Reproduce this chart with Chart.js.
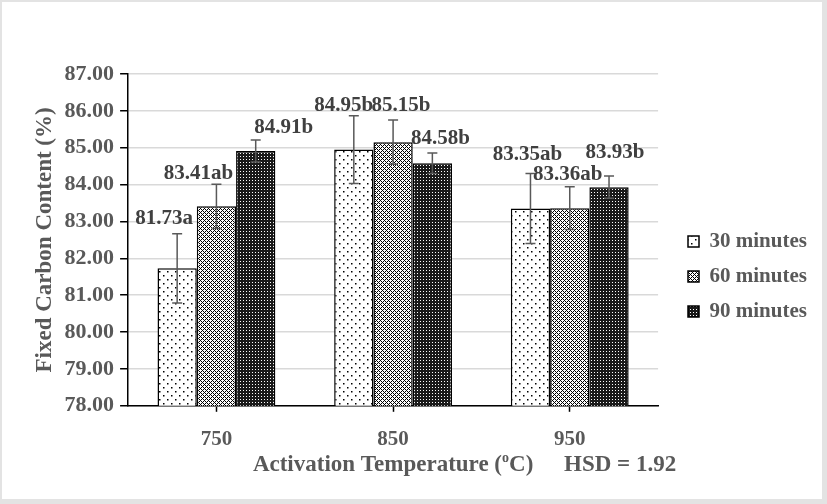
<!DOCTYPE html>
<html>
<head>
<meta charset="utf-8">
<script src="https://cdn.jsdelivr.net/npm/chart.js@4.4.1/dist/chart.umd.min.js"></script>
<style>
  html, body { margin: 0; padding: 0; background: #e3e3e3; }
  #wrap { position: absolute; left: 2px; top: 2px; width: 820px; height: 497px; background: #fff; }
  canvas { display: block; }
</style>
</head>
<body>
<div id="wrap"><canvas id="chart" width="820" height="497"></canvas></div>
<script>
// data
const temperatures = ["750", "850", "950"];
const seriesNames = ["30 minutes", "60 minutes", "90 minutes"];
const carbon30 = [81.73, 84.95, 83.35];
const carbon60 = [83.41, 85.15, 83.36];
const carbon90 = [84.91, 84.58, 83.93];
const err30 = [0.94, 0.92, 0.95];
const err60 = [0.6, 0.6, 0.58];
const err90 = [0.3, 0.28, 0.3];
const letters30 = ["a", "b", "ab"];
const letters60 = ["ab", "b", "ab"];
const letters90 = ["b", "b", "b"];
const yTicks = [78, 79, 80, 81, 82, 83, 84, 85, 86, 87];
const hsdText = "HSD = 1.92";

// where each value label sits relative to its bar top (px), one row per series
const labelShift = [
  [[-13, -50], [-10, -44], [-3, -54]],
  [[-18, -33], [8, -37], [-2, -34]],
  [[28, -23], [8, -25], [6, -35]]
];

const FONT = "'Liberation Serif', 'Times New Roman', serif";
const GREY = "#595959";

function makePattern(kind) {
  const c = document.createElement("canvas");
  const g = c.getContext("2d");
  if (kind === 30) {
    c.width = 8; c.height = 8;
    g.fillStyle = "#fff"; g.fillRect(0, 0, 8, 8);
    g.fillStyle = "#000";
    g.fillRect(1, 1, 1.5, 1.5);
    g.fillRect(5, 5, 1.5, 1.5);
  } else if (kind === 60) {
    c.width = 4; c.height = 4;
    g.fillStyle = "#fff"; g.fillRect(0, 0, 4, 4);
    g.fillStyle = "#000";
    for (let x = 0; x < 4; x++) {
      for (let y = 0; y < 4; y++) {
        if ((x + y) % 4 === 0 || (x - y + 4) % 4 === 0) g.fillRect(x, y, 1, 1);
      }
    }
  } else {
    c.width = 3; c.height = 3;
    g.fillStyle = "#1a1a1a"; g.fillRect(0, 0, 3, 3);
    g.fillStyle = "#fff";
    g.fillRect(1, 1, 1, 1);
  }
  return g.createPattern(c, "repeat");
}

const errors = [err30, err60, err90];
const letters = [letters30, letters60, letters90];

const barExtras = {
  id: "barExtras",
  afterDatasetsDraw(chart) {
    const ctx = chart.ctx;
    const y = chart.scales.y;
    ctx.save();
    chart.data.datasets.forEach((ds, di) => {
      const meta = chart.getDatasetMeta(di);
      meta.data.forEach((bar, i) => {
        const v = ds.data[i];
        const e = errors[di][i];
        const top = y.getPixelForValue(v + e);
        const bot = y.getPixelForValue(v - e);
        ctx.strokeStyle = GREY;
        ctx.lineWidth = 1.5;
        ctx.beginPath();
        ctx.moveTo(bar.x, top); ctx.lineTo(bar.x, bot);
        ctx.moveTo(bar.x - 5, top); ctx.lineTo(bar.x + 5, top);
        ctx.moveTo(bar.x - 5, bot); ctx.lineTo(bar.x + 5, bot);
        ctx.stroke();
      });
    });
    ctx.font = "bold 21px " + FONT;
    ctx.fillStyle = "#404040";
    ctx.textAlign = "center";
    ctx.textBaseline = "middle";
    chart.data.datasets.forEach((ds, di) => {
      const meta = chart.getDatasetMeta(di);
      meta.data.forEach((bar, i) => {
        const s = labelShift[di][i];
        ctx.fillText(ds.data[i].toFixed(2) + letters[di][i], bar.x + s[0], bar.y + s[1]);
      });
    });
    ctx.restore();
  }
};

const xTitle = {
  id: "xTitle",
  afterDraw(chart) {
    const ctx = chart.ctx;
    const area = chart.chartArea;
    const yPos = 463;
    ctx.save();
    ctx.fillStyle = GREY;
    ctx.textBaseline = "middle";
    ctx.textAlign = "left";
    const big = "bold 23px " + FONT;
    const small = "bold 14px " + FONT;
    const a = "Activation Temperature (", b = "o", c = "C)";
    ctx.font = big; const wa = ctx.measureText(a).width; const wc = ctx.measureText(c).width;
    ctx.font = small; const wb = ctx.measureText(b).width;
    let x = (area.left + area.right) / 2 - (wa + wb + wc) / 2;
    ctx.font = big; ctx.fillText(a, x, yPos); x += wa;
    ctx.font = small; ctx.fillText(b, x, yPos - 7); x += wb;
    ctx.font = big; ctx.fillText(c, x, yPos);
    ctx.fillText(hsdText, 562, yPos);
    ctx.restore();
  }
};

const moveLegend = {
  id: "moveLegend",
  afterLayout(chart) {
    const L = chart.legend;
    const w = L.width;
    L.left = 672;
    L.right = L.left + w;
    L.top += 6;
    L.bottom += 6;
  }
};

const ctx = document.getElementById("chart").getContext("2d");

const chart = new Chart(ctx, {
  type: "bar",
  data: {
    labels: temperatures,
    datasets: [
      { label: seriesNames[0], data: carbon30, backgroundColor: makePattern(30) },
      { label: seriesNames[1], data: carbon60, backgroundColor: makePattern(60) },
      { label: seriesNames[2], data: carbon90, backgroundColor: makePattern(90) }
    ].map(d => Object.assign(d, { borderColor: "#000", borderWidth: 1.5, borderSkipped: "bottom" }))
  },
  options: {
    responsive: false,
    animation: false,
    layout: { padding: { left: 29, top: 72, right: 21, bottom: 32 } },
    datasets: { bar: { categoryPercentage: 0.667, barPercentage: 1 } },
    scales: {
      x: {
        grid: { offset: false, drawOnChartArea: false, tickColor: "#000", tickLength: 6, tickWidth: 1.5 },
        border: { color: "#000", width: 1.5 },
        ticks: { color: GREY, padding: 15, font: { family: FONT, size: 21, weight: "bold" } }
      },
      y: {
        min: 78,
        max: 87,
        afterBuildTicks: axis => { axis.ticks = yTicks.map(v => ({ value: v })); },
        grid: { color: "#d9d9d9", lineWidth: 1.5, tickColor: "#000", tickLength: 8, tickWidth: 1.5 },
        border: { color: "#000", width: 1.5 },
        ticks: {
          color: GREY, padding: 6,
          font: { family: FONT, size: 22, weight: "bold" },
          callback: v => Number(v).toFixed(2)
        },
        title: {
          display: true,
          text: "Fixed Carbon Content (%)",
          color: GREY,
          padding: { top: 0, bottom: 0 },
          font: { family: FONT, size: 23, weight: "bold" }
        }
      }
    },
    plugins: {
      legend: {
        position: "right",
        labels: {
          boxWidth: 11, boxHeight: 11, padding: 14,
          color: GREY,
          font: { family: FONT, size: 21, weight: "bold" }
        }
      },
      tooltip: { enabled: false }
    }
  },
  plugins: [barExtras, xTitle, moveLegend]
});
</script>
</body>
</html>
